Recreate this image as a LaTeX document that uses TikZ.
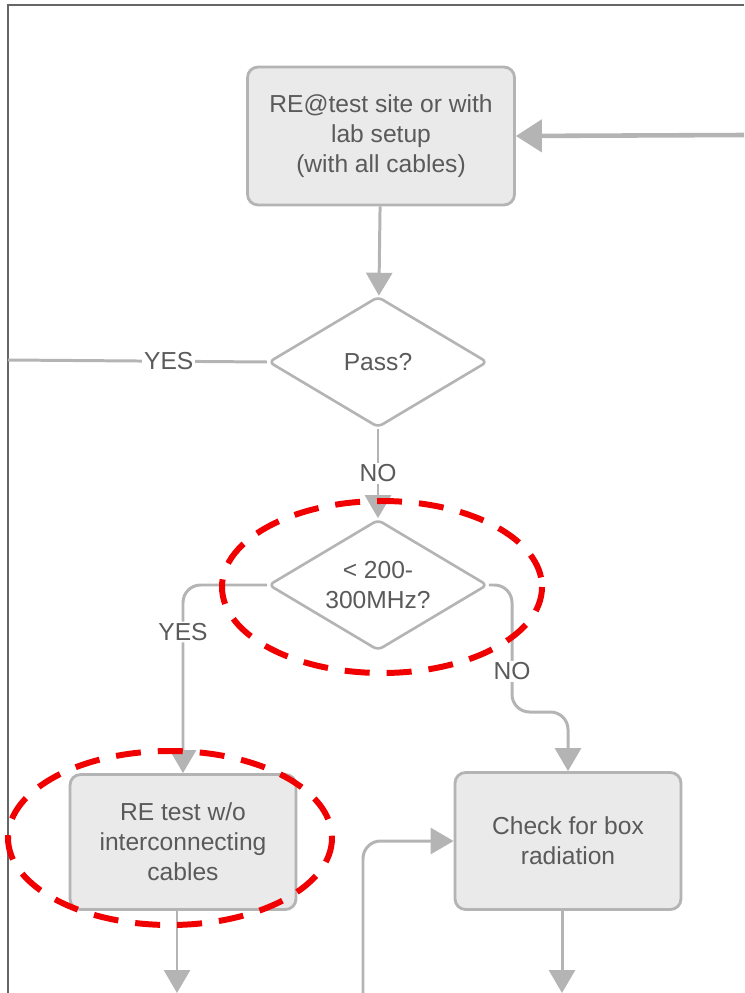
\documentclass[tikz,border=0pt]{standalone}
\usepackage{fontspec}
\setmainfont{Liberation Sans}
\usetikzlibrary{shapes.geometric,arrows.meta}
\definecolor{linegray}{HTML}{B4B4B4}
\definecolor{boxfill}{HTML}{EAEAEA}
\definecolor{txtgray}{HTML}{5A5A5A}
\definecolor{markred}{HTML}{F00000}

\begin{document}
\begin{tikzpicture}[x=0.02cm,y=-0.02cm,
    every node/.style={font=\fontsize{14}{17}\selectfont,text=txtgray},
    proc/.style={draw=linegray,fill=boxfill,line width=1.6pt,rounded corners=6pt,align=center,inner sep=2pt},
    decide/.style={diamond,draw=linegray,line width=1.5pt,rounded corners=3pt,align=center,inner sep=0pt,
        minimum width=4.38cm,minimum height=2.62cm},
    link/.style={draw=linegray,line width=1.7pt},
    flow/.style={link,-{Triangle[length=0.46cm,width=0.52cm]}},
    lab/.style={fill=white,inner sep=1pt},
    hilite/.style={draw=markred,line width=3.4pt,dash pattern=on 0.5cm off 0.34cm}]

    \useasboundingbox (0,0) rectangle (744,993);
    % frame of the page
    \draw[black!60,line width=1pt] (8,993) -- (8,5) -- (744,5);

    \node[proc,minimum width=5.34cm,minimum height=2.76cm] (site) at (381,136)
        {RE@test site or with\\lab setup\\(with all cables)};
    \node[decide] (pass) at (378,362) {Pass?};
    \node[decide,inner ysep=-12pt] (band) at (378,585) {< 200-\\300MHz?};
    \node[proc,minimum width=4.52cm,minimum height=2.7cm] (wocable) at (183,842)
        {RE test w/o\\interconnecting\\cables};
    \node[proc,minimum width=4.52cm,minimum height=2.74cm] (check) at (568,841)
        {Check for box\\radiation};

    \coordinate (fromright) at (744,135);
    \coordinate (yesend) at (8,360);
    \coordinate (nobend) at (512,712);
    \coordinate (upin) at (363,993);
    \coordinate (down1) at (177,993);
    \coordinate (down2) at (562,993);

    \draw[link,line width=2.6pt,-{Triangle[length=0.52cm,width=0.64cm]}] (fromright) -- (site.east);
    \draw[flow] (site) -- (pass);
    \draw[link] (pass.west) -- node[lab,pos=0.38] {YES} (yesend);
    \draw[flow] (pass.south) -- node[lab] {NO} (band.north);
    \draw[flow,rounded corners=10pt] (band.west) -| node[lab,pos=0.625] {YES} (wocable.north);
    \draw[flow,rounded corners=10pt] (band.east) -| node[lab,pos=0.84] {NO} (nobend) -| (check.north);
    \draw[flow,rounded corners=10pt] (upin) |- (check.west);
    \draw[flow] (wocable.south -| down1) -- (down1);
    \draw[flow] (check.south -| down2) -- (down2);

    % red marks
    \draw[hilite] (382,587) ellipse [x radius=160,y radius=86];
    \draw[hilite] (170,838) ellipse [x radius=162,y radius=87];
\end{tikzpicture}
\end{document}
